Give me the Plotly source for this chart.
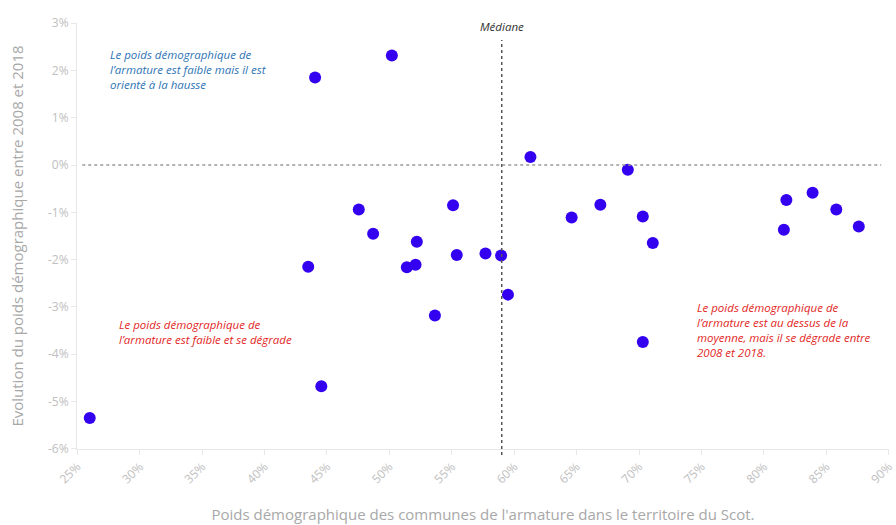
import plotly.graph_objects as go

# Data: x = poids démographique (%), y = évolution 2008-2018 (points de %)
poids = [26.0, 43.5, 44.05, 44.55, 47.55, 48.7, 50.2, 51.4, 52.1, 52.2,
         53.65, 55.1, 55.4, 57.7, 58.95, 59.5, 61.3, 64.6, 66.9, 69.1,
         70.3, 70.3, 71.1, 81.6, 81.8, 83.9, 85.8, 87.6]
evolution = [-5.35, -2.15, 1.85, -4.68, -0.94, -1.45, 2.32, -2.16, -2.11, -1.62,
             -3.18, -0.85, -1.90, -1.87, -1.91, -2.74, 0.17, -1.11, -0.84, -0.10,
             -1.09, -3.74, -1.65, -1.37, -0.74, -0.585, -0.94, -1.30]
x_ticks = [25, 30, 35, 40, 45, 50, 55, 60, 65, 70, 75, 80, 85, 90]
y_ticks = [-6, -5, -4, -3, -2, -1, 0, 1, 2, 3]
MEDIANE = 59.0

fig = go.Figure()
fig.add_trace(go.Scatter(
    x=poids, y=evolution, mode="markers",
    marker=dict(size=12, color="#3300f0", line=dict(width=0)),
    showlegend=False, cliponaxis=False,
))

# horizontal dotted line at 0
fig.add_shape(type="line", xref="x", yref="y", x0=25.4, x1=89.4, y0=0, y1=0,
              line=dict(color="#9a9a9a", width=1.5, dash="dot"))
# median vertical dotted line
fig.add_shape(type="line", xref="x", yref="paper", x0=MEDIANE, x1=MEDIANE,
              y0=-0.014, y1=0.96,
              line=dict(color="#555555", width=1.5, dash="dot"))

ann_font = "'Open Sans', sans-serif"
fig.add_annotation(x=MEDIANE, y=2.94, xref="x", yref="y", text="<i>Médiane</i>",
                   showarrow=False, xanchor="center", yanchor="middle",
                   font=dict(family=ann_font, size=11.5, color="#333333"))
fig.add_annotation(x=27.5, y=2.03, xref="x", yref="y",
                   text="<i>Le poids démographique de<br>l’armature est faible mais il est<br>orienté à la hausse</i>",
                   showarrow=False, xanchor="left", yanchor="middle", align="left",
                   font=dict(family=ann_font, size=11.5, color="#2e74b5"))
fig.add_annotation(x=28.2, y=-3.53, xref="x", yref="y",
                   text="<i>Le poids démographique de<br>l’armature est faible et se dégrade</i>",
                   showarrow=False, xanchor="left", yanchor="middle", align="left",
                   font=dict(family=ann_font, size=11.5, color="#e21f26"))
fig.add_annotation(x=74.5, y=-3.49, xref="x", yref="y",
                   text="<i>Le poids démographique de<br>l’armature est au dessus de la<br>moyenne, mais il se dégrade entre<br>2008 et 2018.</i>",
                   showarrow=False, xanchor="left", yanchor="middle", align="left",
                   font=dict(family=ann_font, size=11.5, color="#e21f26"))

fig.update_xaxes(
    range=[24.98, 90.02], tickvals=x_ticks, ticktext=[f"{v}%" for v in x_ticks],
    tickangle=-45, showgrid=False, zeroline=False,
    showline=True, linecolor="#e8e8e8", linewidth=1,
    ticks="outside", ticklen=5, tickcolor="#e8e8e8",
    ticklabeloverflow="allow",
    tickfont=dict(family="'Open Sans', sans-serif", size=12, color="#c0c0c0"),
    title=dict(text="Poids démographique des communes de l'armature dans le territoire du Scot.",
               font=dict(family="'Open Sans', sans-serif", size=15, color="#a8a8a8"),
               standoff=23),
)
fig.update_yaxes(
    range=[-6.005, 3.005], tickvals=y_ticks, ticktext=[f"{v}%" for v in y_ticks],
    showgrid=False, zeroline=False,
    showline=True, linecolor="#e8e8e8", linewidth=1,
    ticks="outside", ticklen=5, tickcolor="#e8e8e8",
    tickfont=dict(family="'Open Sans', sans-serif", size=12, color="#c0c0c0"),
    title=dict(text="Evolution du poids démographique entre 2008 et 2018",
               font=dict(family="'Open Sans', sans-serif", size=15, color="#a8a8a8"),
               standoff=20),
)
fig.update_layout(
    width=896, height=525,
    margin=dict(l=77, r=7, t=23, b=76, autoexpand=False),
    plot_bgcolor="white", paper_bgcolor="white",
)
fig.write_html("out.html", config={"displayModeBar": False})

# remove default page margin so the figure fills the window exactly
with open("out.html", "r", encoding="utf-8") as f:
    html = f.read()
html = html.replace("<head>", "<head><style>html,body{margin:0;padding:0;overflow:hidden;}</style>", 1)
with open("out.html", "w", encoding="utf-8") as f:
    f.write(html)
